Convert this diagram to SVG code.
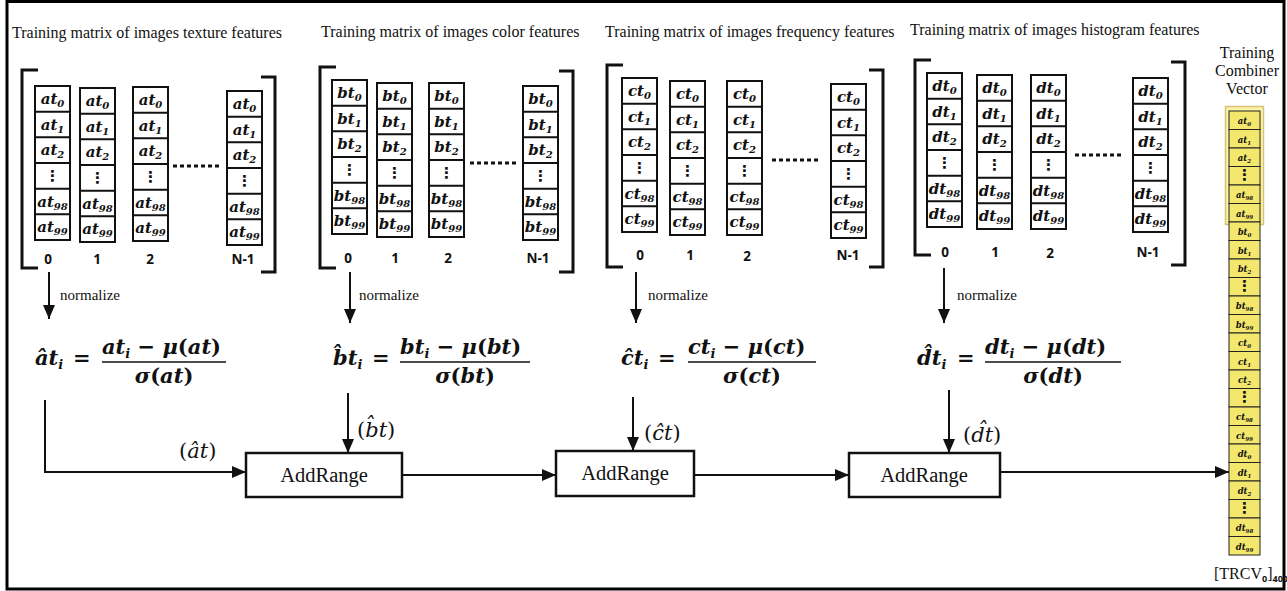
<svg xmlns="http://www.w3.org/2000/svg" xmlns:xlink="http://www.w3.org/1999/xlink" width="1287" height="591" viewBox="0 0 1287 591">
<style>
.t{font-family:"Liberation Serif",serif;font-size:16px;fill:#111}
.c{font-family:"DejaVu Serif",serif;font-style:italic;font-weight:bold;font-size:15px;text-anchor:middle;fill:#111}
.s{font-size:10px}
.dt{font-family:"DejaVu Sans",sans-serif;font-weight:bold;font-size:15px;text-anchor:middle;fill:#111}
.lbl{font-family:"Open Sans","DejaVu Sans",sans-serif;font-weight:bold;font-size:13.5px;text-anchor:middle;fill:#111}
.f{font-family:"DejaVu Serif",serif;font-style:italic;font-weight:bold;font-size:21px;fill:#111}
.fs{font-size:13px}
.up{font-style:normal}
.n{font-family:"Liberation Serif",serif;font-size:15px;fill:#111}
.box{fill:#fff;stroke:#111;stroke-width:2.5}
.ar{font-family:"Liberation Serif",serif;font-size:20.5px;text-anchor:middle;fill:#111}
.lab{font-family:"DejaVu Serif",serif;font-style:italic;font-size:21px;fill:#111}
.ln{stroke:#111;stroke-width:2;fill:none}
.br{stroke:#111;stroke-width:3;fill:none}
.cell{fill:#fff;stroke:#111;stroke-width:2}
.y{fill:#f4e76e;stroke:#222;stroke-width:1}
.yc{font-family:"DejaVu Serif",serif;font-style:italic;font-weight:bold;font-size:8.5px;text-anchor:middle;fill:#111}
.ys{font-size:5.5px}
.dots{stroke:#111;stroke-width:3;stroke-dasharray:4 3}
.sub{font-family:"Open Sans","DejaVu Sans",sans-serif;font-weight:bold;font-size:9px}
</style>
<defs>
<marker id="ah" markerUnits="userSpaceOnUse" markerWidth="14" markerHeight="12" refX="14" refY="6" orient="auto"><path d="M0,0 L14,6 L0,12 z" fill="#111"/></marker>
<g id="cells">
<rect class="cell" x="0" y="0" width="35" height="154"/>
<path d="M0,25.7H35M0,51.3H35M0,77H35M0,102.7H35M0,128.3H35" stroke="#111" stroke-width="2"/>
</g>
<g id="colA"><use xlink:href="#cells"/>
<text class="c" x="17.5" y="18">at<tspan class="s" dy="3">0</tspan></text>
<text class="c" x="17.5" y="43.5">at<tspan class="s" dy="3">1</tspan></text>
<text class="c" x="17.5" y="69">at<tspan class="s" dy="3">2</tspan></text>
<text class="dt" x="17.5" y="95">⋮</text>
<text class="c" x="17.5" y="120.5">at<tspan class="s" dy="3">98</tspan></text>
<text class="c" x="17.5" y="146">at<tspan class="s" dy="3">99</tspan></text>
</g>
<g id="colB"><use xlink:href="#cells"/>
<text class="c" x="17.5" y="18">bt<tspan class="s" dy="3">0</tspan></text>
<text class="c" x="17.5" y="43.5">bt<tspan class="s" dy="3">1</tspan></text>
<text class="c" x="17.5" y="69">bt<tspan class="s" dy="3">2</tspan></text>
<text class="dt" x="17.5" y="95">⋮</text>
<text class="c" x="17.5" y="120.5">bt<tspan class="s" dy="3">98</tspan></text>
<text class="c" x="17.5" y="146">bt<tspan class="s" dy="3">99</tspan></text>
</g>
<g id="colC"><use xlink:href="#cells"/>
<text class="c" x="17.5" y="18">ct<tspan class="s" dy="3">0</tspan></text>
<text class="c" x="17.5" y="43.5">ct<tspan class="s" dy="3">1</tspan></text>
<text class="c" x="17.5" y="69">ct<tspan class="s" dy="3">2</tspan></text>
<text class="dt" x="17.5" y="95">⋮</text>
<text class="c" x="17.5" y="120.5">ct<tspan class="s" dy="3">98</tspan></text>
<text class="c" x="17.5" y="146">ct<tspan class="s" dy="3">99</tspan></text>
</g>
<g id="colD"><use xlink:href="#cells"/>
<text class="c" x="17.5" y="18">dt<tspan class="s" dy="3">0</tspan></text>
<text class="c" x="17.5" y="43.5">dt<tspan class="s" dy="3">1</tspan></text>
<text class="c" x="17.5" y="69">dt<tspan class="s" dy="3">2</tspan></text>
<text class="dt" x="17.5" y="95">⋮</text>
<text class="c" x="17.5" y="120.5">dt<tspan class="s" dy="3">98</tspan></text>
<text class="c" x="17.5" y="146">dt<tspan class="s" dy="3">99</tspan></text>
</g>
</defs>
<rect x="0" y="0" width="1287" height="591" fill="#fff"/>
<rect x="7" y="1.5" width="1277" height="587.5" fill="none" stroke="#000" stroke-width="3"/>

<g id="matrix-texture">
<text class="t" x="12" y="38">Training matrix of images texture features</text>
<path class="br" d="M38,70H22V268H38"/>
<path class="br" d="M261,77H275V272H261"/>
<use xlink:href="#colA" x="35" y="86"/>
<use xlink:href="#colA" x="80" y="88"/>
<use xlink:href="#colA" x="133" y="87"/>
<use xlink:href="#colA" x="227" y="91"/>
<line class="dots" x1="173" y1="166" x2="219" y2="166"/>
<text class="lbl" x="48" y="264">0</text><text class="lbl" x="97" y="264">1</text><text class="lbl" x="150" y="264">2</text><text class="lbl" x="243" y="264">N-1</text>
</g>

<g id="matrix-color">
<text class="t" x="321" y="37">Training matrix of images color features</text>
<path class="br" d="M336,67H320V268H336"/>
<path class="br" d="M559,71H573V272H559"/>
<use xlink:href="#colB" x="332" y="80"/>
<use xlink:href="#colB" x="377" y="83"/>
<use xlink:href="#colB" x="429" y="83"/>
<use xlink:href="#colB" x="523" y="86"/>
<line class="dots" x1="470" y1="163" x2="516" y2="163"/>
<text class="lbl" x="348" y="263">0</text><text class="lbl" x="395" y="263">1</text><text class="lbl" x="448" y="263">2</text><text class="lbl" x="538" y="263">N-1</text>
</g>

<g id="matrix-frequency">
<text class="t" x="605" y="37">Training matrix of images frequency features</text>
<path class="br" d="M623,65H607V267H623"/>
<path class="br" d="M869,70H883V267H869"/>
<use xlink:href="#colC" x="622" y="78"/>
<use xlink:href="#colC" x="670" y="81"/>
<use xlink:href="#colC" x="727" y="81"/>
<use xlink:href="#colC" x="831" y="84"/>
<line class="dots" x1="772" y1="160" x2="821" y2="160"/>
<text class="lbl" x="640" y="260">0</text><text class="lbl" x="690" y="260">1</text><text class="lbl" x="747" y="261">2</text><text class="lbl" x="848" y="260">N-1</text>
</g>

<g id="matrix-histogram">
<text class="t" x="910" y="35">Training matrix of images histogram features</text>
<path class="br" d="M931,60H915V255H931"/>
<path class="br" d="M1171,62H1185V265H1171"/>
<use xlink:href="#colD" x="927" y="73"/>
<use xlink:href="#colD" x="977" y="75"/>
<use xlink:href="#colD" x="1031" y="75"/>
<use xlink:href="#colD" x="1133" y="78"/>
<line class="dots" x1="1075" y1="155" x2="1124" y2="155"/>
<text class="lbl" x="945" y="257">0</text><text class="lbl" x="995" y="257">1</text><text class="lbl" x="1050" y="258">2</text><text class="lbl" x="1148" y="257">N-1</text>
</g>

<g id="formula-a">
<text class="f" x="35" y="365">a&#x302;t<tspan class="fs" dy="4">i</tspan></text>
<text class="f up" x="73" y="365">=</text>
<text class="f" x="102" y="354">at<tspan class="fs" dy="4">i</tspan><tspan dy="-4"> − μ</tspan><tspan class="up">(</tspan>at<tspan class="up">)</tspan></text>
<line x1="102" y1="362" x2="226" y2="362" stroke="#111" stroke-width="1.6"/>
<text class="f" x="164" y="383" text-anchor="middle">σ<tspan class="up">(</tspan>at<tspan class="up">)</tspan></text>
</g>
<g id="formula-b">
<text class="f" x="333" y="365">b&#x302;t<tspan class="fs" dy="4">i</tspan></text>
<text class="f up" x="372" y="365">=</text>
<text class="f" x="400" y="354">bt<tspan class="fs" dy="4">i</tspan><tspan dy="-4"> − μ</tspan><tspan class="up">(</tspan>bt<tspan class="up">)</tspan></text>
<line x1="400" y1="362" x2="530" y2="362" stroke="#111" stroke-width="1.6"/>
<text class="f" x="465" y="383" text-anchor="middle">σ<tspan class="up">(</tspan>bt<tspan class="up">)</tspan></text>
</g>
<g id="formula-c">
<text class="f" x="621" y="365">c&#x302;t<tspan class="fs" dy="4">i</tspan></text>
<text class="f up" x="658" y="365">=</text>
<text class="f" x="688" y="354">ct<tspan class="fs" dy="4">i</tspan><tspan dy="-4"> − μ</tspan><tspan class="up">(</tspan>ct<tspan class="up">)</tspan></text>
<line x1="688" y1="362" x2="816" y2="362" stroke="#111" stroke-width="1.6"/>
<text class="f" x="752" y="383" text-anchor="middle">σ<tspan class="up">(</tspan>ct<tspan class="up">)</tspan></text>
</g>
<g id="formula-d">
<text class="f" x="917" y="365">d&#x302;t<tspan class="fs" dy="4">i</tspan></text>
<text class="f up" x="957" y="365">=</text>
<text class="f" x="985" y="354">dt<tspan class="fs" dy="4">i</tspan><tspan dy="-4"> − μ</tspan><tspan class="up">(</tspan>dt<tspan class="up">)</tspan></text>
<line x1="985" y1="362" x2="1121" y2="362" stroke="#111" stroke-width="1.6"/>
<text class="f" x="1053" y="383" text-anchor="middle">σ<tspan class="up">(</tspan>dt<tspan class="up">)</tspan></text>
</g>

<g id="addrange-1"><rect class="box" x="246" y="453" width="156" height="44"/><text class="ar" x="324" y="482">AddRange</text></g>
<g id="addrange-2"><rect class="box" x="556" y="451" width="138" height="45"/><text class="ar" x="625" y="480">AddRange</text></g>
<g id="addrange-3"><rect class="box" x="849" y="453" width="151" height="44"/><text class="ar" x="924" y="482">AddRange</text></g>

<g id="combiner-vector">
<text class="t" x="1247" y="58" text-anchor="middle" font-size="15">Training</text>
<text class="t" x="1247" y="76" text-anchor="middle" font-size="15">Combiner</text>
<text class="t" x="1247" y="94" text-anchor="middle" font-size="15">Vector</text>
<rect x="1225.5" y="106.5" width="38" height="118" fill="#fbf3a6" stroke="#d9c27a" stroke-width="1.5"/>
<rect class="y" x="1229" y="111" width="31" height="18.5"/><rect class="y" x="1229" y="129.5" width="31" height="18.5"/><rect class="y" x="1229" y="148" width="31" height="18.5"/><rect class="y" x="1229" y="166.5" width="31" height="18.5"/><rect class="y" x="1229" y="185" width="31" height="18.5"/><rect class="y" x="1229" y="203.5" width="31" height="18.5"/>
<rect class="y" x="1229" y="222" width="31" height="18.5"/><rect class="y" x="1229" y="240.5" width="31" height="18.5"/><rect class="y" x="1229" y="259" width="31" height="18.5"/><rect class="y" x="1229" y="277.5" width="31" height="18.5"/><rect class="y" x="1229" y="296" width="31" height="18.5"/><rect class="y" x="1229" y="314.5" width="31" height="18.5"/>
<rect class="y" x="1229" y="333" width="31" height="18.5"/><rect class="y" x="1229" y="351.5" width="31" height="18.5"/><rect class="y" x="1229" y="370" width="31" height="18.5"/><rect class="y" x="1229" y="388.5" width="31" height="18.5"/><rect class="y" x="1229" y="407" width="31" height="18.5"/><rect class="y" x="1229" y="425.5" width="31" height="18.5"/>
<rect class="y" x="1229" y="444" width="31" height="18.5"/><rect class="y" x="1229" y="462.5" width="31" height="18.5"/><rect class="y" x="1229" y="481" width="31" height="18.5"/><rect class="y" x="1229" y="499.5" width="31" height="18.5"/><rect class="y" x="1229" y="518" width="31" height="18.5"/><rect class="y" x="1229" y="536.5" width="31" height="18.5"/>
<text class="yc" x="1244.5" y="124">at<tspan class="ys" dy="2">0</tspan></text>
<text class="yc" x="1244.5" y="142.5">at<tspan class="ys" dy="2">1</tspan></text>
<text class="yc" x="1244.5" y="161">at<tspan class="ys" dy="2">2</tspan></text>
<text class="dt" x="1244.5" y="180" font-size="10">⋮</text>
<text class="yc" x="1244.5" y="198">at<tspan class="ys" dy="2">98</tspan></text>
<text class="yc" x="1244.5" y="216.5">at<tspan class="ys" dy="2">99</tspan></text>
<text class="yc" x="1244.5" y="235">bt<tspan class="ys" dy="2">0</tspan></text>
<text class="yc" x="1244.5" y="253.5">bt<tspan class="ys" dy="2">1</tspan></text>
<text class="yc" x="1244.5" y="272">bt<tspan class="ys" dy="2">2</tspan></text>
<text class="dt" x="1244.5" y="291" font-size="10">⋮</text>
<text class="yc" x="1244.5" y="309">bt<tspan class="ys" dy="2">98</tspan></text>
<text class="yc" x="1244.5" y="327.5">bt<tspan class="ys" dy="2">99</tspan></text>
<text class="yc" x="1244.5" y="346">ct<tspan class="ys" dy="2">0</tspan></text>
<text class="yc" x="1244.5" y="364.5">ct<tspan class="ys" dy="2">1</tspan></text>
<text class="yc" x="1244.5" y="383">ct<tspan class="ys" dy="2">2</tspan></text>
<text class="dt" x="1244.5" y="402" font-size="10">⋮</text>
<text class="yc" x="1244.5" y="420">ct<tspan class="ys" dy="2">98</tspan></text>
<text class="yc" x="1244.5" y="438.5">ct<tspan class="ys" dy="2">99</tspan></text>
<text class="yc" x="1244.5" y="457">dt<tspan class="ys" dy="2">0</tspan></text>
<text class="yc" x="1244.5" y="475.5">dt<tspan class="ys" dy="2">1</tspan></text>
<text class="yc" x="1244.5" y="494">dt<tspan class="ys" dy="2">2</tspan></text>
<text class="dt" x="1244.5" y="513" font-size="10">⋮</text>
<text class="yc" x="1244.5" y="531">dt<tspan class="ys" dy="2">98</tspan></text>
<text class="yc" x="1244.5" y="549.5">dt<tspan class="ys" dy="2">99</tspan></text>
<text class="t" x="1214" y="579" font-size="14">[TRCV<tspan class="sub" dy="3">0</tspan><tspan dy="-3">]</tspan><tspan class="sub" dy="3">400</tspan></text>
</g>

<g id="connectors">
<line class="ln" x1="49" y1="272" x2="49" y2="319" marker-end="url(#ah)"/>
<line class="ln" x1="350" y1="272" x2="350" y2="323" marker-end="url(#ah)"/>
<line class="ln" x1="636" y1="272" x2="636" y2="323" marker-end="url(#ah)"/>
<line class="ln" x1="944" y1="268" x2="944" y2="323" marker-end="url(#ah)"/>
<text class="n" x="60" y="300">normalize</text>
<text class="n" x="359" y="300">normalize</text>
<text class="n" x="648" y="300">normalize</text>
<text class="n" x="957" y="300">normalize</text>
<path class="ln" d="M45,400V472H246" marker-end="url(#ah)"/>
<line class="ln" x1="348" y1="393" x2="348" y2="453" marker-end="url(#ah)"/>
<line class="ln" x1="633" y1="397" x2="633" y2="451" marker-end="url(#ah)"/>
<line class="ln" x1="949" y1="390" x2="949" y2="453" marker-end="url(#ah)"/>
<line class="ln" x1="402" y1="475" x2="556" y2="475" marker-end="url(#ah)"/>
<line class="ln" x1="694" y1="475" x2="849" y2="475" marker-end="url(#ah)"/>
<line class="ln" x1="1000" y1="472" x2="1229" y2="472" marker-end="url(#ah)"/>
<text class="lab" x="179" y="458"><tspan class="up">(</tspan>a&#x302;t<tspan class="up">)</tspan></text>
<text class="lab" x="357" y="437"><tspan class="up">(</tspan>b&#x302;t<tspan class="up">)</tspan></text>
<text class="lab" x="644" y="440"><tspan class="up">(</tspan>c&#x302;t<tspan class="up">)</tspan></text>
<text class="lab" x="963" y="442"><tspan class="up">(</tspan>d&#x302;t<tspan class="up">)</tspan></text>
</g>
</svg>
